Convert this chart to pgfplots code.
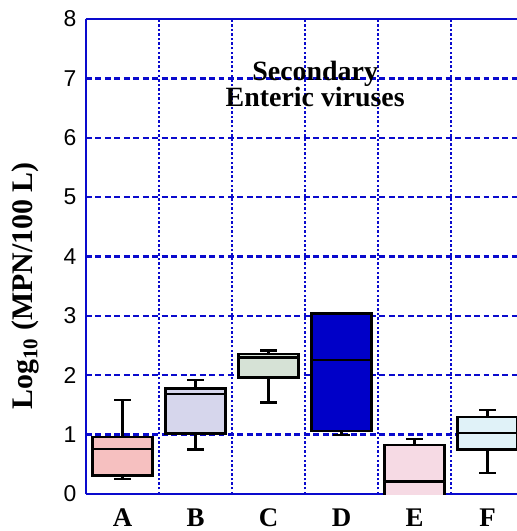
\documentclass[border=0pt]{standalone}
\usepackage{fontspec}
\setmainfont{Liberation Serif}
\newfontfamily\arialf{Liberation Sans}
\usepackage{pgfplots}
\pgfplotsset{compat=1.18}
\usepgfplotslibrary{statistics}
\definecolor{gridblue}{RGB}{10,10,205}
\definecolor{fillA}{RGB}{246,192,192}
\definecolor{fillB}{RGB}{214,214,236}
\definecolor{fillC}{RGB}{214,226,214}
\definecolor{fillD}{RGB}{0,0,200}
\definecolor{fillE}{RGB}{246,218,228}
\definecolor{fillF}{RGB}{224,242,248}
\begin{document}
\begin{tikzpicture}
\begin{axis}[
  at={(86bp,37bp)}, anchor=south west,
  scale only axis, width=431bp, height=475bp,
  xmin=0, xmax=5.904, ymin=0, ymax=8,
  axis x line=box, axis y line=left,
  axis line style={gridblue, line width=2.6pt, -},
  xtick={0.5,1.5,2.5,3.5,4.5,5.5},
  xticklabels={A,B,C,D,E,F},
  minor xtick={1,2,3,4,5,6},
  ytick={0,1,...,8},
  xmajorgrids=false, xminorgrids=true, ymajorgrids=true,
  minor grid style={gridblue, line width=2.6pt, dash pattern=on 2.4pt off 2.2pt},
  major grid style={gridblue, line width=2.4pt, dash pattern=on 6pt off 3.5pt},
  major tick length=0pt, minor tick length=0pt,
  xticklabel style={font=\fontsize{27}{27}\selectfont\bfseries, yshift=-11bp},
  yticklabel style={font=\arialf\fontsize{23}{23}\selectfont, xshift=-6bp},
  /pgf/number format/assume math mode=true,
  ylabel={Log\textsubscript{10} (MPN/100 L)},
  ylabel style={font=\fontsize{30}{30}\selectfont\bfseries, at={(axis description cs:-0.1415,0.438)}, anchor=center},
  clip=true,
  boxplot/draw direction=y,
]
\addplot[draw=black, line width=2.4pt, fill=fillA, boxplot prepared={draw position=0.5, lower whisker=0.25, lower quartile=0.31, median=0.76, upper quartile=0.965, upper whisker=1.58, box extend=0.82, whisker extend=0.22}] coordinates {};
\addplot[draw=black, line width=2.4pt, fill=fillB, boxplot prepared={draw position=1.5, lower whisker=0.75, lower quartile=1.02, median=1.68, upper quartile=1.78, upper whisker=1.92, box extend=0.82, whisker extend=0.22}] coordinates {};
\addplot[draw=black, line width=2.4pt, fill=fillC, boxplot prepared={draw position=2.5, lower whisker=1.54, lower quartile=1.96, median=2.30, upper quartile=2.36, upper whisker=2.42, box extend=0.82, whisker extend=0.22}] coordinates {};
\addplot[draw=black, line width=2.4pt, fill=fillD, boxplot prepared={draw position=3.5, lower whisker=0.99, lower quartile=1.06, median=2.26, upper quartile=3.04, upper whisker=3.05, box extend=0.82, whisker extend=0.22}] coordinates {};
\addplot[draw=black, line width=2.4pt, fill=fillE, boxplot prepared={draw position=4.5, lower whisker=-0.2, lower quartile=-0.1, median=0.21, upper quartile=0.825, upper whisker=0.93, box extend=0.82, whisker extend=0.22}] coordinates {};
\addplot[draw=black, line width=2.4pt, fill=fillF, boxplot prepared={draw position=5.5, lower whisker=0.35, lower quartile=0.75, median=1.03, upper quartile=1.30, upper whisker=1.41, box extend=0.82, whisker extend=0.22}] coordinates {};
\node[font=\fontsize{28}{28}\selectfont\bfseries, align=center] at (axis cs:3.14,6.9) {Secondary\\[-2pt]Enteric viruses};
\end{axis}
\pgfresetboundingbox
\path[use as bounding box] (0,0) rectangle (517bp,531bp);
\end{tikzpicture}
\end{document}
